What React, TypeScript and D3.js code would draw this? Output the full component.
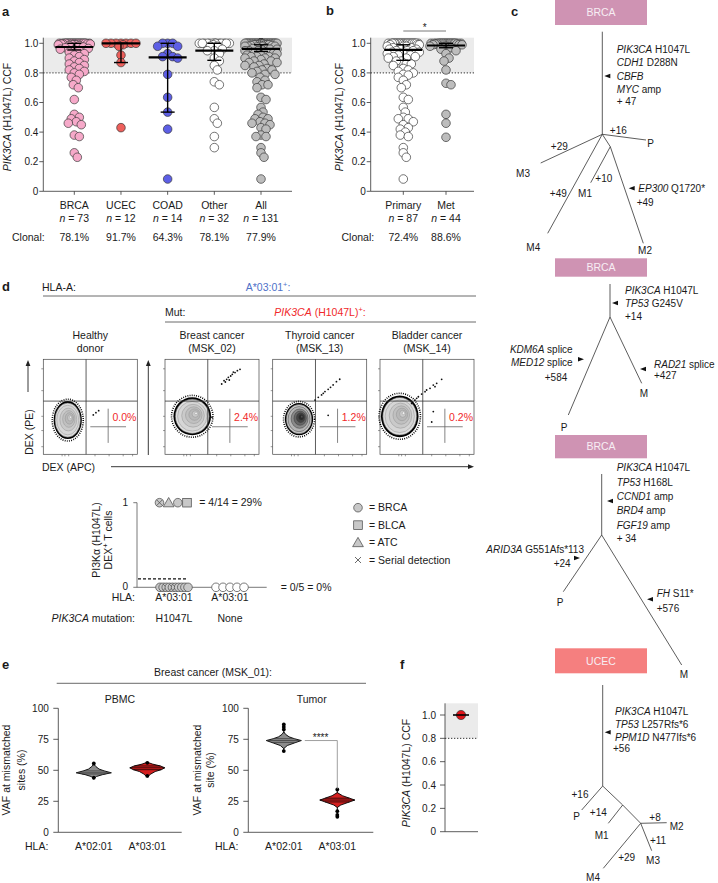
import React from "react";
import * as d3 from "d3";

const FONT = "'Liberation Sans', Arial, Helvetica, sans-serif";
const INK = "#1a1a1a";

// ---------------- Panel a data ----------------
const catsA = ["BRCA", "UCEC", "COAD", "Other", "All"];
const nA = ["73", "12", "14", "32", "131"];
const clonalA = ["78.1%", "91.7%", "64.3%", "78.1%", "77.9%"];
const brcaCCF = [
  1, 1, 1, 1, 1, 1, 1, 1, 1, 1, 1, 1, 1, 1, 1, 1, 1, 1, 1, 1, 1, 1, 1, 1, 1, 1,
  0.995, 0.995, 0.995, 0.995, 0.99, 0.99, 0.99, 0.99, 0.985, 0.985,
  0.975, 0.97, 0.965, 0.96, 0.955, 0.95, 0.94, 0.93, 0.92, 0.91, 0.9, 0.89, 0.88, 0.87, 0.86, 0.85, 0.84, 0.83, 0.82, 0.81, 0.8,
  0.79, 0.77, 0.75, 0.72, 0.7, 0.62, 0.52, 0.5, 0.49, 0.47, 0.46, 0.45, 0.38, 0.37, 0.26, 0.23,
];
const ucecCCF = [1, 1, 1, 1, 1, 1, 1, 0.99, 0.98, 0.92, 0.87, 0.43];
const coadCCF = [1, 1, 1, 0.98, 0.98, 0.93, 0.91, 0.91, 0.9, 0.79, 0.635, 0.535, 0.42, 0.083];
const otherCCF = [
  1, 1, 1, 1, 1, 1, 1, 1, 1, 1, 1, 1, 1, 1,
  0.99, 0.98, 0.98, 0.96, 0.95, 0.95, 0.93, 0.9, 0.88, 0.85, 0.82,
  0.74, 0.72, 0.567, 0.49, 0.46, 0.37, 0.295,
];
const medianA = [0.975, 1.0, 0.905, 0.95, 0.962];
const lowA = [0.955, 0.87, 0.535, 0.885, 0.945];
const highA = [1.0, 1.0, 1.0, 1.0, 0.99];

// ---------------- Panel b data ----------------
const catsB = ["Primary", "Met"];
const nB = ["87", "44"];
const clonalB = ["72.4%", "88.6%"];
const primaryCCF = [
  1, 1, 1, 1, 1, 1, 1, 1, 1, 1, 1, 1, 1, 1, 1, 1, 1, 1, 1, 1, 1, 1, 1, 1, 1, 1, 1, 1,
  0.99, 0.99, 0.99, 0.98, 0.98, 0.98, 0.97, 0.97, 0.97, 0.96, 0.96, 0.96, 0.95, 0.95, 0.95,
  0.94, 0.94, 0.93, 0.93, 0.92, 0.92, 0.91, 0.91, 0.9, 0.9, 0.88, 0.88, 0.86, 0.86, 0.85, 0.83, 0.82, 0.81, 0.8,
  0.79, 0.785, 0.77, 0.75, 0.72, 0.7, 0.635, 0.62, 0.567, 0.535, 0.5, 0.49, 0.49, 0.47, 0.45, 0.43, 0.42, 0.4,
  0.38, 0.37, 0.295, 0.26, 0.23, 0.083,
];
const metCCF = [
  1, 1, 1, 1, 1, 1, 1, 1, 1, 1, 1, 1, 1, 1, 1, 1, 1, 1, 1, 1, 1, 1, 1, 1,
  0.995, 0.995, 0.995, 0.99, 0.99, 0.99, 0.98, 0.98, 0.97, 0.96, 0.95, 0.93, 0.9, 0.88, 0.82,
  0.73, 0.72, 0.52, 0.46, 0.365,
];
const medianB = [0.955, 0.985];
const lowB = [0.885, 0.97];
const highB = [0.99, 1.0];

const ccfTicks = [0, 0.2, 0.4, 0.6, 0.8, 1.0];

// ---------------- Panel d data ----------------
const flowTitles = [["Healthy", "donor"], ["Breast cancer", "(MSK_02)"], ["Thyroid cancer", "(MSK_13)"], ["Bladder cancer", "(MSK_14)"]];
const flowPct = ["0.0%", "2.4%", "1.2%", "0.2%"];
const flowPops = [
  { cx: 0.26, cy: 0.36, rx: 0.15, ry: 0.2 },
  { cx: 0.29, cy: 0.4, rx: 0.2, ry: 0.2 },
  { cx: 0.28, cy: 0.37, rx: 0.15, ry: 0.17 },
  { cx: 0.21, cy: 0.4, rx: 0.2, ry: 0.22 },
];
const flowEvents = [
  [[0.532, 0.414], [0.56, 0.438], [0.589, 0.459]],
  [[0.603, 0.74], [0.628, 0.775], [0.656, 0.789], [0.674, 0.81], [0.699, 0.824], [0.716, 0.842], [0.745, 0.86], [0.77, 0.88], [0.798, 0.894], [0.727, 0.866], [0.684, 0.782], [0.642, 0.761], [0.5, 0.39]],
  [[0.45, 0.571], [0.485, 0.6], [0.52, 0.625], [0.556, 0.66], [0.59, 0.684], [0.615, 0.705], [0.643, 0.73], [0.678, 0.765], [0.713, 0.79], [0.538, 0.642], [0.59, 0.41]],
  [[0.372, 0.571], [0.408, 0.606], [0.443, 0.634], [0.479, 0.659], [0.532, 0.694], [0.567, 0.729], [0.603, 0.747], [0.656, 0.789], [0.585, 0.712], [0.496, 0.677], [0.39, 0.589], [0.337, 0.536], [0.567, 0.45], [0.55, 0.34]],
];
const flowTicksY = [0.08, 0.25, 0.4, 0.67, 0.9];
const flowTicksX = [0.2, 0.23, 0.27, 0.55, 0.7, 0.85, 0.95];

const dexGroups = ["H1047L", "None"];
const dexHLA = ["A*03:01", "A*03:01"];
const responders = ["circleX", "triangle", "circle", "square"];
const responderValue = [1, 1, 1, 1];
const nonRespH1047L = ["circle", "circle", "circleX", "circle", "circleX", "circleX", "circle", "circle", "circle", "circle"];
const nonRespNone = ["open", "open", "open", "open", "open"];
const legendShapes = ["circle", "square", "triangle", "x"];
const legendLabels = ["= BRCA", "= BLCA", "= ATC", "= Serial detection"];

// ---------------- Panel e data ----------------
const hlaE = ["A*02:01", "A*03:01"];
const pbmcProfiles = [
  [[43, 0], [45, 0.15], [46.5, 0.5], [48, 1], [49.5, 0.6], [51, 0.3], [53, 0.12], [55, 0]],
  [[44.5, 0], [47, 0.2], [49, 0.45], [50.5, 0.8], [52, 1], [53.5, 0.75], [55, 0.3], [56.5, 0]],
];
const pbmcQuart = [[47, 48, 49.5], [50.5, 52, 53.5]];
const pbmcWhisk = [[43.8, 55.8], [45.4, 56.5]];
const pbmcDots = [[44, 55.5], [45.5, 56]];
const tumorProfiles = [
  [[67.5, 0], [70, 0.2], [72, 0.6], [74, 1], [75.5, 0.6], [77, 0.3], [79, 0.1], [81, 0]],
  [[20, 0], [22, 0.2], [24, 0.6], [26, 1], [27.5, 0.7], [29.5, 0.3], [32, 0]],
];
const tumorQuart = [[72.5, 74, 75.5], [24.5, 26, 27.5]];
const tumorWhisk = [[65, 87], [12, 34.5]];
const tumorDots = [[87, 85, 83, 65.5], [34.5, 17, 14, 12.5]];
const vafTicks = [0, 25, 50, 75, 100];

// ---------------- Panel f data ----------------
const fCCF = [1.0];

// ---------------- helpers ----------------
function Txt({ x, y, segs, anchor = "start", size = 10.5, fill = INK, weight = "normal" }) {
  const parts = [];
  let sup = false;
  segs.forEach((s, i) => {
    const dy = s.sup && !sup ? -4 : !s.sup && sup ? 4 : 0;
    sup = !!s.sup;
    parts.push(
      <tspan key={i} dy={dy || undefined} fontStyle={s.i ? "italic" : "normal"} fontSize={s.sup ? size * 0.7 : undefined}>
        {s.t}
      </tspan>
    );
  });
  return (
    <text x={x} y={y} textAnchor={anchor} fontSize={size} fill={fill} fontWeight={weight}>
      {parts}
    </text>
  );
}

function swarm(vals, y, minDist, maxOff) {
  const sorted = [...vals].sort((a, b) => b - a);
  const placed = [];
  for (const v of sorted) {
    const yy = y(v);
    let best = 0;
    let bestScore = -1;
    for (let k = 0; k <= 2 * maxOff; k++) {
      const dx = k === 0 ? 0 : (k % 2 ? 1 : -1) * Math.ceil(k / 2);
      let m = Infinity;
      for (const p of placed) {
        const d = Math.hypot(p.dx - dx, p.y - yy);
        if (d < m) m = d;
      }
      if (m >= minDist) {
        best = dx;
        bestScore = Infinity;
        break;
      }
      if (m > bestScore) {
        bestScore = m;
        best = dx;
      }
    }
    placed.push({ dx: best, y: yy, v });
  }
  return placed;
}

function SwarmColumn({ values, cx, y, fill, med, lo, hi }) {
  const pts = swarm(values, y, 5, 16);
  return (
    <g>
      {pts.map((p, i) => (
        <circle key={i} cx={cx + p.dx} cy={p.y} r={4.3} fill={fill} stroke="#3a3a3a" strokeWidth={0.7} />
      ))}
      <line x1={cx} x2={cx} y1={y(lo)} y2={y(hi)} stroke="#000" strokeWidth={1.4} />
      <line x1={cx - 7} x2={cx + 7} y1={y(lo)} y2={y(lo)} stroke="#000" strokeWidth={1.4} />
      <line x1={cx - 7} x2={cx + 7} y1={y(hi)} y2={y(hi)} stroke="#000" strokeWidth={1.4} />
      <line x1={cx - 19} x2={cx + 19} y1={y(med)} y2={y(med)} stroke="#000" strokeWidth={2.2} />
    </g>
  );
}

function YAxis({ x, y, ticks, fmt, top, size = 10, gap = 6, tick = 4 }) {
  return (
    <g>
      <line x1={x} x2={x} y1={y(0)} y2={top} stroke="#333" strokeWidth={0.8} />
      {ticks.map((t) => (
        <g key={t}>
          <line x1={x - tick} x2={x} y1={y(t)} y2={y(t)} stroke="#333" strokeWidth={0.8} />
          <text x={x - gap} y={y(t) + 3.6} textAnchor="end" fontSize={size} fill={INK}>
            {fmt(t)}
          </text>
        </g>
      ))}
    </g>
  );
}

const fmtCCF = (v) => (v === 0 ? "0" : d3.format(".1f")(v));

function RotLabel({ cx, cy, segs, size = 10.5 }) {
  return (
    <g transform={`translate(${cx + size * 0.36},${cy}) rotate(-90)`}>
      <Txt x={0} y={0} segs={segs} anchor="middle" size={size} />
    </g>
  );
}

// ---------------- Panel a ----------------
function PanelA() {
  const y = d3.scaleLinear().domain([0, 1]).range([191.3, 43.3]);
  const x = d3.scalePoint().domain(catsA).range([74.3, 261]);
  const x0 = 43.3;
  const x1 = 292;
  const groups = [brcaCCF, ucecCCF, coadCCF, otherCCF, [...brcaCCF, ...ucecCCF, ...coadCCF, ...otherCCF]];
  const fills = ["#f6a9c9", "#ee5f5b", "#5d5fe6", "#ffffff", "#bdbdbd"];
  return (
    <g>
      <text x={2} y={16} fontSize={13} fontWeight="bold" fill={INK}>a</text>
      <rect x={x0} y={y(1.038)} width={x1 - x0} height={y(0.8) - y(1.038)} fill="#ebebeb" />
      <line x1={x0} x2={x1} y1={y(0.8)} y2={y(0.8)} stroke="#333" strokeWidth={1} strokeDasharray="1.3 1.7" />
      <YAxis x={x0} y={y} ticks={ccfTicks} fmt={fmtCCF} top={y(1.038)} gap={5} />
      <line x1={x0} x2={x1} y1={y(0)} y2={y(0)} stroke="#333" strokeWidth={0.8} />
      {catsA.map((c, i) => (
        <g key={c}>
          <line x1={x(c)} x2={x(c)} y1={y(0)} y2={y(0) + 3.5} stroke="#333" strokeWidth={0.8} />
          <SwarmColumn values={groups[i]} cx={x(c)} y={y} fill={fills[i]} med={medianA[i]} lo={lowA[i]} hi={highA[i]} />
          <Txt x={x(c)} y={208.5} segs={[{ t: c }]} anchor="middle" />
          <Txt x={x(c)} y={222} segs={[{ t: "n", i: true }, { t: " = " + nA[i] }]} anchor="middle" />
          <Txt x={x(c)} y={240.5} segs={[{ t: clonalA[i] }]} anchor="middle" />
        </g>
      ))}
      <Txt x={12} y={240.5} segs={[{ t: "Clonal:" }]} />
      <RotLabel cx={7} cy={117} segs={[{ t: "PIK3CA", i: true }, { t: " (H1047L) CCF" }]} />
    </g>
  );
}

// ---------------- Panel b ----------------
function PanelB() {
  const y = d3.scaleLinear().domain([0, 1]).range([191.3, 43.3]);
  const x = d3.scalePoint().domain(catsB).range([403.3, 446]);
  const x0 = 370.7;
  const x1 = 474;
  const groups = [primaryCCF, metCCF];
  const fills = ["#ffffff", "#bdbdbd"];
  return (
    <g>
      <text x={326} y={15} fontSize={13} fontWeight="bold" fill={INK}>b</text>
      <rect x={x0} y={y(1.038)} width={x1 - x0} height={y(0.8) - y(1.038)} fill="#ebebeb" />
      <line x1={x0} x2={x1} y1={y(0.8)} y2={y(0.8)} stroke="#333" strokeWidth={1} strokeDasharray="1.3 1.7" />
      <YAxis x={x0} y={y} ticks={ccfTicks} fmt={fmtCCF} top={y(1.038)} gap={5} />
      <line x1={x0} x2={x1} y1={y(0)} y2={y(0)} stroke="#333" strokeWidth={0.8} />
      <line x1={x("Primary")} x2={x("Met")} y1={31} y2={31} stroke="#555" strokeWidth={0.8} />
      <text x={(x("Primary") + x("Met")) / 2} y={30.5} textAnchor="middle" fontSize={10} fill={INK}>*</text>
      {catsB.map((c, i) => (
        <g key={c}>
          <line x1={x(c)} x2={x(c)} y1={y(0)} y2={y(0) + 3.5} stroke="#333" strokeWidth={0.8} />
          <SwarmColumn values={groups[i]} cx={x(c)} y={y} fill={fills[i]} med={medianB[i]} lo={lowB[i]} hi={highB[i]} />
          <Txt x={x(c)} y={208.5} segs={[{ t: c }]} anchor="middle" />
          <Txt x={x(c)} y={222} segs={[{ t: "n", i: true }, { t: " = " + nB[i] }]} anchor="middle" />
          <Txt x={x(c)} y={240.5} segs={[{ t: clonalB[i] }]} anchor="middle" />
        </g>
      ))}
      <Txt x={341.5} y={240.5} segs={[{ t: "Clonal:" }]} />
      <RotLabel cx={339} cy={117} segs={[{ t: "PIK3CA", i: true }, { t: " (H1047L) CCF" }]} />
    </g>
  );
}

// ---------------- Panel c (phylogenetic trees) ----------------
const trees = [
  {
    root: [602.3, 31.7],
    box: { label: "BRCA", top: -31.7, h: 25, color: "#cf93b3" },
    nodes: { r: [0, 0], a: [0, 102.6], P: [43.7, 108.3], M3: [-61.6, 131.3], M4: [-54.6, 201.6], b: [8, 115], M1: [-11.6, 151], M2: [41, 211.6] },
    edges: [["r", "a"], ["a", "P"], ["a", "M3"], ["a", "M4"], ["a", "b"], ["b", "M1"], ["b", "M2"]],
    arrows: [[5, 44.3, "l"], [29.4, 156.6, "l"]],
    labels: [
      [14.4, 20.8, "start", [{ t: "PIK3CA", i: true }, { t: " H1047L" }]],
      [14.4, 34.5, "start", [{ t: "CDH1", i: true }, { t: " D288N" }]],
      [14.4, 47.8, "start", [{ t: "CBFB", i: true }]],
      [14.4, 60.8, "start", [{ t: "MYC", i: true }, { t: " amp" }]],
      [14.4, 73.5, "start", [{ t: "+ 47" }]],
      [16, 101.8, "middle", [{ t: "+16" }]],
      [45, 115, "start", [{ t: "P" }]],
      [-43, 117.8, "middle", [{ t: "+29" }]],
      [-79.3, 144.8, "middle", [{ t: "M3" }]],
      [-44, 165.1, "middle", [{ t: "+49" }]],
      [-69, 219, "middle", [{ t: "M4" }]],
      [1.5, 150.1, "middle", [{ t: "+10" }]],
      [-17.3, 164.8, "middle", [{ t: "M1" }]],
      [36, 160.1, "start", [{ t: "EP300", i: true }, { t: " Q1720*" }]],
      [34.4, 174.5, "start", [{ t: "+49" }]],
      [42.7, 222.5, "middle", [{ t: "M2" }]],
    ],
  },
  {
    root: [610, 284],
    box: { label: "BRCA", top: -25.7, h: 18.4, color: "#cf93b3" },
    nodes: { r: [0, 0], a: [0, 33], P: [-41.7, 131], M: [31.7, 99.3] },
    edges: [["r", "a"], ["a", "P"], ["a", "M"]],
    arrows: [[5, 19, "l"], [-29, 75.3, "r"], [33, 85, "l"]],
    labels: [
      [15, 9.5, "start", [{ t: "PIK3CA", i: true }, { t: " H1047L" }]],
      [15, 22.5, "start", [{ t: "TP53", i: true }, { t: " G245V" }]],
      [15, 36.2, "start", [{ t: "+14" }]],
      [-37.3, 68.8, "end", [{ t: "KDM6A", i: true }, { t: " splice" }]],
      [-37.3, 82.2, "end", [{ t: "MED12", i: true }, { t: " splice" }]],
      [-54, 97.2, "middle", [{ t: "+584" }]],
      [44, 83.5, "start", [{ t: "RAD21", i: true }, { t: " splice" }]],
      [44, 94.5, "start", [{ t: "+427" }]],
      [-46, 147.2, "middle", [{ t: "P" }]],
      [34, 112.5, "middle", [{ t: "M" }]],
    ],
  },
  {
    root: [601.7, 474],
    box: { label: "BRCA", top: -39, h: 23.3, color: "#cf93b3" },
    nodes: { r: [0, 0], a: [0, 61], P: [-38.4, 117.7], M: [80, 191] },
    edges: [["r", "a"], ["a", "P"], ["a", "M"]],
    arrows: [[8.3, 27, "l"], [-24.7, 84, "r"], [48.3, 125.3, "l"]],
    labels: [
      [15, -2.8, "start", [{ t: "PIK3CA", i: true }, { t: " H1047L" }]],
      [15, 11.5, "start", [{ t: "TP53", i: true }, { t: " H168L" }]],
      [15, 26.2, "start", [{ t: "CCND1", i: true }, { t: " amp" }]],
      [15, 40.2, "start", [{ t: "BRD4", i: true }, { t: " amp" }]],
      [15, 54.5, "start", [{ t: "FGF19", i: true }, { t: " amp" }]],
      [15, 68.2, "start", [{ t: "+ 34" }]],
      [-17.7, 78.5, "end", [{ t: "ARID3A", i: true }, { t: " G551Afs*113" }]],
      [-31, 92.8, "end", [{ t: "+24" }]],
      [-41.7, 132.2, "middle", [{ t: "P" }]],
      [55, 122.8, "start", [{ t: "FH", i: true }, { t: " S11*" }]],
      [55, 137.8, "start", [{ t: "+576" }]],
      [82.3, 203.5, "middle", [{ t: "M" }]],
    ],
  },
  {
    root: [602.7, 685],
    box: { label: "UCEC", top: -36.7, h: 25, color: "#f57f7f" },
    nodes: { r: [0, 0], A: [0, 101], P: [-21, 125], C: [20, 120], M1: [5.6, 138.3], B: [38, 138.3], M2: [64, 137.7], M3: [49, 165.7], M4: [0.6, 183.3] },
    edges: [["r", "A"], ["A", "P"], ["A", "C"], ["C", "B"], ["C", "M1"], ["B", "M2"], ["B", "M3"], ["B", "M4"]],
    arrows: [[5, 47.3, "l"]],
    labels: [
      [12.3, 30.2, "start", [{ t: "PIK3CA", i: true }, { t: " H1047L" }]],
      [12.3, 43.2, "start", [{ t: "TP53", i: true }, { t: " L257Rfs*6" }]],
      [12.3, 56.2, "start", [{ t: "PPM1D", i: true }, { t: " N477Ifs*6" }]],
      [10.3, 66.8, "start", [{ t: "+56" }]],
      [-22.7, 112.8, "middle", [{ t: "+16" }]],
      [-26, 134.5, "middle", [{ t: "P" }]],
      [-4.4, 130.8, "middle", [{ t: "+14" }]],
      [-1, 153.5, "middle", [{ t: "M1" }]],
      [52.3, 135.8, "middle", [{ t: "+8" }]],
      [74, 145.2, "middle", [{ t: "M2" }]],
      [55.3, 158.5, "middle", [{ t: "+11" }]],
      [50.3, 179.2, "middle", [{ t: "M3" }]],
      [24, 175.8, "middle", [{ t: "+29" }]],
      [-9.7, 196, "middle", [{ t: "M4" }]],
    ],
  },
];

function Tree({ t }) {
  const sx = d3.scaleLinear().domain([0, 1]).range([t.root[0], t.root[0] + 1]);
  const sy = d3.scaleLinear().domain([0, 1]).range([t.root[1], t.root[1] + 1]);
  const line = d3.line().x((d) => sx(d[0])).y((d) => sy(d[1]));
  const boxX0 = 555;
  const boxX1 = 647;
  return (
    <g>
      <rect x={boxX0} y={sy(t.box.top)} width={boxX1 - boxX0} height={t.box.h} fill={t.box.color} />
      <text x={(boxX0 + boxX1) / 2} y={sy(t.box.top) + t.box.h / 2 + 3.7} textAnchor="middle" fontSize={10.5} fill="#f7eef3">
        {t.box.label}
      </text>
      {t.edges.map(([a, b], i) => (
        <path key={i} d={line([t.nodes[a], t.nodes[b]])} stroke="#333" strokeWidth={0.8} fill="none" />
      ))}
      {t.arrows.map(([ax, ay, dir], i) => {
        const cx = sx(ax);
        const cy = sy(ay);
        const d = dir === "l" ? `M${cx - 3},${cy} L${cx + 3},${cy - 2.2} L${cx + 3},${cy + 2.2} Z` : `M${cx + 3},${cy} L${cx - 3},${cy - 2.2} L${cx - 3},${cy + 2.2} Z`;
        return <path key={i} d={d} fill="#111" />;
      })}
      {t.labels.map(([lx, ly, anchor, segs], i) => (
        <Txt key={i} x={sx(lx)} y={sy(ly)} segs={segs} anchor={anchor} size={10} />
      ))}
    </g>
  );
}

function PanelC() {
  return (
    <g>
      <text x={511} y={16} fontSize={13} fontWeight="bold" fill={INK}>c</text>
      {trees.map((t, i) => (
        <Tree key={i} t={t} />
      ))}
    </g>
  );
}

// ---------------- Panel d ----------------
function FlowBox({ left, idx }) {
  const w = 94;
  const fx = d3.scaleLinear().domain([0, 1]).range([left, left + w]);
  const fy = d3.scaleLinear().domain([0, 1]).range([454.3, 359.3]);
  const pop = flowPops[idx];
  const rx = fx(pop.rx) - fx(0);
  const ry = fy(0) - fy(pop.ry);
  const cx = fx(pop.cx);
  const cy = fy(pop.cy);
  const dark = idx === 2;
  const levels = [0.78, 0.6, 0.44, 0.3, 0.17, 0.07];
  const shades = dark ? ["#b5b5b5", "#8a8a8a", "#666", "#444", "#2a2a2a", "#555"] : ["#d6d6d6", "#cacaca", "#c0c0c0", "#b8b8b8", "#c9c9c9", "#f2f2f2"];
  return (
    <g>
      <rect x={fx(0)} y={fy(1)} width={w} height={fy(0) - fy(1)} fill="#fff" stroke="#444" strokeWidth={0.7} />
      {flowTicksY.map((t) => (
        <line key={"y" + t} x1={fx(0) - 2} x2={fx(0)} y1={fy(t)} y2={fy(t)} stroke="#555" strokeWidth={0.6} />
      ))}
      {flowTicksX.map((t) => (
        <line key={"x" + t} x1={fx(t)} x2={fx(t)} y1={fy(0)} y2={fy(0) + 2} stroke="#555" strokeWidth={0.6} />
      ))}
      <ellipse cx={cx} cy={cy} rx={rx * 1.1} ry={ry * 1.1} fill="none" stroke="#000" strokeWidth={1.6} strokeDasharray="0.9 1.3" />
      <ellipse cx={cx} cy={cy} rx={rx} ry={ry} fill="#000" />
      <ellipse cx={cx} cy={cy} rx={rx * 0.9} ry={ry * 0.9} fill={dark ? "#cfcfcf" : "#dedede"} stroke="#555" strokeWidth={0.5} />
      {levels.map((l, i) => (
        <ellipse key={i} cx={cx + rx * 0.04 * i} cy={cy - ry * 0.03 * i} rx={rx * l} ry={ry * l} fill={shades[i]} stroke={dark ? "#333" : "#8c8c8c"} strokeWidth={0.45} />
      ))}
      <line x1={fx(0.455)} x2={fx(0.455)} y1={fy(0)} y2={fy(1)} stroke="#333" strokeWidth={0.8} />
      <line x1={fx(0)} x2={fx(1)} y1={fy(0.56)} y2={fy(0.56)} stroke="#333" strokeWidth={0.8} />
      {flowEvents[idx].map((e, i) => (
        <circle key={i} cx={fx(e[0])} cy={fy(e[1])} r={0.9} fill="#111" />
      ))}
      <line x1={fx(0.69)} x2={fx(0.69)} y1={fy(0.48)} y2={fy(0.12)} stroke="#666" strokeWidth={0.8} />
      <line x1={fx(0.5)} x2={fx(0.88)} y1={fy(0.29)} y2={fy(0.29)} stroke="#666" strokeWidth={0.8} />
      <text x={fx(0.735)} y={fy(0.385) + 3.7} fontSize={10.5} fill="#f0282a">{flowPct[idx]}</text>
      <text x={fx(0.5)} y={338.8} textAnchor="middle" fontSize={10.5} fill={INK}>{flowTitles[idx][0]}</text>
      <text x={fx(0.5)} y={352} textAnchor="middle" fontSize={10.5} fill={INK}>{flowTitles[idx][1]}</text>
    </g>
  );
}

function Shape({ kind, cx, cy, r = 4.3, fill = "#c8c8c8" }) {
  const st = { stroke: "#444", strokeWidth: 0.7 };
  if (kind === "square") return <rect x={cx - r} y={cy - r} width={2 * r} height={2 * r} fill={fill} {...st} />;
  if (kind === "triangle") {
    const p = d3.symbol(d3.symbolTriangle, 50)();
    return <path d={p} transform={`translate(${cx},${cy + 1})`} fill={fill} {...st} />;
  }
  if (kind === "x") {
    return (
      <g stroke="#444" strokeWidth={0.8}>
        <line x1={cx - 3} x2={cx + 3} y1={cy - 3} y2={cy + 3} />
        <line x1={cx - 3} x2={cx + 3} y1={cy + 3} y2={cy - 3} />
      </g>
    );
  }
  if (kind === "open") return <circle cx={cx} cy={cy} r={r} fill="#fff" {...st} />;
  const c = <circle cx={cx} cy={cy} r={r} fill={fill} {...st} />;
  if (kind === "circleX") {
    const k = r * 0.7;
    return (
      <g>
        {c}
        <line x1={cx - k} x2={cx + k} y1={cy - k} y2={cy + k} stroke="#444" strokeWidth={0.7} />
        <line x1={cx - k} x2={cx + k} y1={cy + k} y2={cy - k} stroke="#444" strokeWidth={0.7} />
      </g>
    );
  }
  return c;
}

function PanelD() {
  const boxes = [43.3, 165, 272.7, 380];
  const y = d3.scaleLinear().domain([0, 1]).range([587.3, 502.7]);
  const gx = d3.scalePoint().domain(dexGroups).range([174, 230]);
  const g1 = d3.scalePoint().domain(d3.range(nonRespH1047L.length)).range([160, 188]);
  const g2 = d3.scalePoint().domain(d3.range(nonRespNone.length)).range([216, 244]);
  const gTop = d3.scalePoint().domain(d3.range(responders.length)).range([159.5, 187]);
  const legY = d3.scalePoint().domain(d3.range(legendShapes.length)).range([507.7, 560]);
  return (
    <g>
      <text x={2} y={291} fontSize={13} fontWeight="bold" fill={INK}>d</text>
      <Txt x={42} y={290.5} segs={[{ t: "HLA-A:" }]} />
      <Txt x={268} y={290.5} anchor="middle" fill="#4f72c9" segs={[{ t: "A*03:01" }, { t: "+", sup: true }, { t: ":" }]} />
      <line x1={43} x2={476} y1={296} y2={296} stroke="#444" strokeWidth={0.8} />
      <Txt x={165} y={316} segs={[{ t: "Mut:" }]} />
      <Txt x={320} y={316} anchor="middle" fill="#f0282a" segs={[{ t: "PIK3CA", i: true }, { t: " (H1047L)" }, { t: "+", sup: true }, { t: ":" }]} />
      <line x1={165} x2={476} y1={322} y2={322} stroke="#444" strokeWidth={0.8} />
      {boxes.map((l, i) => (
        <FlowBox key={i} left={l} idx={i} />
      ))}
      {/* axis arrows */}
      <line x1={28} x2={28} y1={392} y2={364} stroke="#222" strokeWidth={0.9} />
      <path d="M28,360 L25.6,366 L30.4,366 Z" fill="#222" />
      <line x1={148.3} x2={148.3} y1={455} y2={364} stroke="#222" strokeWidth={0.9} />
      <path d="M148.3,360 L145.9,366 L150.7,366 Z" fill="#222" />
      <RotLabel cx={29} cy={432} segs={[{ t: "DEX (PE)" }]} />
      <Txt x={42} y={470.5} segs={[{ t: "DEX (APC)" }]} />
      <line x1={111} x2={470} y1={466.7} y2={466.7} stroke="#222" strokeWidth={0.9} />
      <path d="M474,466.7 L468,464.3 L468,469.1 Z" fill="#222" />

      {/* DEX+ summary chart */}
      <line x1={137} x2={137} y1={y(0)} y2={y(1)} stroke="#555" strokeWidth={0.8} />
      {[0, 1].map((t) => (
        <g key={t}>
          <line x1={133.3} x2={137} y1={y(t)} y2={y(t)} stroke="#555" strokeWidth={0.8} />
          <text x={128} y={y(t) + (t === 0 ? 2.6 : 3.4)} textAnchor="end" fontSize={10} fill={INK}>{t}</text>
        </g>
      ))}
      <line x1={137} x2={266.7} y1={y(0)} y2={y(0)} stroke="#555" strokeWidth={0.8} />
      <line x1={138} x2={188} y1={y(0.1)} y2={y(0.1)} stroke="#111" strokeWidth={1.3} strokeDasharray="3 2" />
      {nonRespH1047L.map((k, i) => (
        <Shape key={"a" + i} kind={k} cx={g1(i)} cy={y(0)} />
      ))}
      {nonRespNone.map((k, i) => (
        <Shape key={"b" + i} kind={k} cx={g2(i)} cy={y(0)} />
      ))}
      {responders.map((k, i) => (
        <Shape key={"c" + i} kind={k} cx={gTop(i)} cy={y(responderValue[i])} />
      ))}
      <Txt x={199.3} y={y(1) + 3.6} segs={[{ t: "= 4/14 = 29%" }]} />
      <Txt x={280.7} y={y(0) + 3.6} segs={[{ t: "= 0/5 = 0%" }]} />
      <g transform={`translate(${100.3},${540}) rotate(-90)`}>
        <Txt x={0} y={0} anchor="middle" segs={[{ t: "PI3Kα (H1047L)" }]} />
      </g>
      <g transform={`translate(${111.8},${540}) rotate(-90)`}>
        <Txt x={0} y={0} anchor="middle" segs={[{ t: "DEX" }, { t: "+", sup: true }, { t: " T cells" }]} />
      </g>
      <Txt x={135} y={600.5} anchor="end" segs={[{ t: "HLA:" }]} />
      <Txt x={135} y={621.5} anchor="end" segs={[{ t: "PIK3CA", i: true }, { t: " mutation:" }]} />
      {dexGroups.map((g, i) => (
        <g key={g}>
          <Txt x={gx(g)} y={600.5} anchor="middle" segs={[{ t: dexHLA[i] }]} />
          <Txt x={gx(g)} y={621.5} anchor="middle" segs={[{ t: g }]} />
        </g>
      ))}
      {legendShapes.map((k, i) => (
        <g key={k}>
          <Shape kind={k} cx={358} cy={legY(i)} />
          <Txt x={369} y={legY(i) + 3.6} segs={[{ t: legendLabels[i] }]} />
        </g>
      ))}
    </g>
  );
}

// ---------------- Panel e ----------------
function Violin({ cx, y, profile, quarts, whisk, dots, fill, lineColor }) {
  const W = 17.5;
  const wOf = d3.scaleLinear().domain(profile.map((p) => p[0])).range(profile.map((p) => p[1])).clamp(true);
  const area = d3.area().y((d) => y(d[0])).x0((d) => cx - W * d[1]).x1((d) => cx + W * d[1]);
  return (
    <g>
      <line x1={cx} x2={cx} y1={y(whisk[0])} y2={y(whisk[1])} stroke="#000" strokeWidth={1} />
      <path d={area(profile)} fill={fill} stroke="#000" strokeWidth={0.9} />
      {quarts.map((q, i) => (
        <line key={i} x1={cx - W * wOf(q)} x2={cx + W * wOf(q)} y1={y(q)} y2={y(q)} stroke={lineColor} strokeWidth={0.7} />
      ))}
      {dots.map((v, i) => (
        <circle key={i} cx={cx} cy={y(v)} r={1.9} fill="#000" />
      ))}
    </g>
  );
}

function VafPanel({ axisX, axisEnd, cats, profiles, quarts, whisk, dots, title, ylab2, titleX, labX }) {
  const y = d3.scaleLinear().domain([0, 100]).range([832.3, 708.3]);
  const x = d3.scalePoint().domain(cats).range([axisX + 35.5, axisX + 89]);
  const fills = ["#8c8c8c", "#d41f1f"];
  const lines = ["#333", "#000"];
  return (
    <g>
      <YAxis x={axisX} y={y} ticks={vafTicks} fmt={(v) => String(v)} top={y(100)} gap={9.5} tick={5} />
      <line x1={axisX} x2={axisEnd} y1={y(0)} y2={y(0)} stroke="#333" strokeWidth={0.8} />
      <Txt x={titleX} y={703} anchor="middle" segs={[{ t: title }]} />
      {cats.map((c, i) => (
        <g key={c}>
          <Violin cx={x(c)} y={y} profile={profiles[i]} quarts={quarts[i]} whisk={whisk[i]} dots={dots[i]} fill={fills[i]} lineColor={lines[i]} />
          <Txt x={x(c)} y={849.5} anchor="middle" segs={[{ t: c }]} />
        </g>
      ))}
      <Txt x={axisX - 10} y={849.5} anchor="end" segs={[{ t: "HLA:" }]} />
      <RotLabel cx={labX[0]} cy={770} segs={[{ t: "VAF at mismatched" }]} />
      <RotLabel cx={labX[1]} cy={770} segs={[{ t: ylab2 }]} />
    </g>
  );
}

function PanelE() {
  const y = d3.scaleLinear().domain([0, 100]).range([832.3, 708.3]);
  const xt = d3.scalePoint().domain(hlaE).range([248.3 + 35.5, 248.3 + 89]);
  return (
    <g>
      <text x={2} y={669} fontSize={13} fontWeight="bold" fill={INK}>e</text>
      <Txt x={213} y={675.5} anchor="middle" segs={[{ t: "Breast cancer (MSK_01):" }]} />
      <line x1={56.7} x2={366} y1={683.3} y2={683.3} stroke="#444" strokeWidth={0.8} />
      <VafPanel axisX={58.3} axisEnd={181.7} cats={hlaE} profiles={pbmcProfiles} quarts={pbmcQuart} whisk={pbmcWhisk} dots={pbmcDots} title="PBMC" ylab2="sites (%)" titleX={120} labX={[6, 21]} />
      <VafPanel axisX={248.3} axisEnd={373.3} cats={hlaE} profiles={tumorProfiles} quarts={tumorQuart} whisk={tumorWhisk} dots={tumorDots} title="Tumor" ylab2="site (%)" titleX={311.7} labX={[197.5, 210]} />
      <polyline points={`${xt("A*02:01") + 21},${y(74)} ${xt("A*03:01")},${y(74)} ${xt("A*03:01")},${y(35)}`} fill="none" stroke="#888" strokeWidth={0.8} />
      <text x={(xt("A*02:01") + xt("A*03:01")) / 2 + 10} y={740.5} textAnchor="middle" fontSize={10} fill={INK}>****</text>
    </g>
  );
}

// ---------------- Panel f ----------------
function PanelF() {
  const y = d3.scaleLinear().domain([0, 1]).range([831.7, 715]);
  const x0 = 445;
  const x1 = 478;
  const cx = 461;
  return (
    <g>
      <text x={400} y={669} fontSize={13} fontWeight="bold" fill={INK}>f</text>
      <rect x={x0} y={y(1.1)} width={x1 - x0} height={y(0.8) - y(1.1)} fill="#ebebeb" />
      <line x1={x0} x2={x1} y1={y(0.8)} y2={y(0.8)} stroke="#333" strokeWidth={1} strokeDasharray="1.3 1.7" />
      <YAxis x={x0} y={y} ticks={ccfTicks} fmt={fmtCCF} top={y(1.1)} gap={9} tick={5} />
      <line x1={x0} x2={x1} y1={y(0)} y2={y(0)} stroke="#333" strokeWidth={0.8} />
      {fCCF.map((v, i) => (
        <g key={i}>
          <circle cx={cx} cy={y(v)} r={4.6} fill="#e0161b" stroke="#333" strokeWidth={0.7} />
          <line x1={cx - 8} x2={cx + 8} y1={y(v)} y2={y(v)} stroke="#000" strokeWidth={1.6} />
        </g>
      ))}
      <RotLabel cx={406} cy={773} segs={[{ t: "PIK3CA", i: true }, { t: " (H1047L) CCF" }]} />
    </g>
  );
}

export default function App() {
  return (
    <svg width={718} height={883} style={{ position: "absolute", left: 0, top: 0, background: "#fff" }} fontFamily={FONT}>
      <rect width={718} height={883} fill="#fff" />
      <PanelA />
      <PanelB />
      <PanelC />
      <PanelD />
      <PanelE />
      <PanelF />
    </svg>
  );
}
